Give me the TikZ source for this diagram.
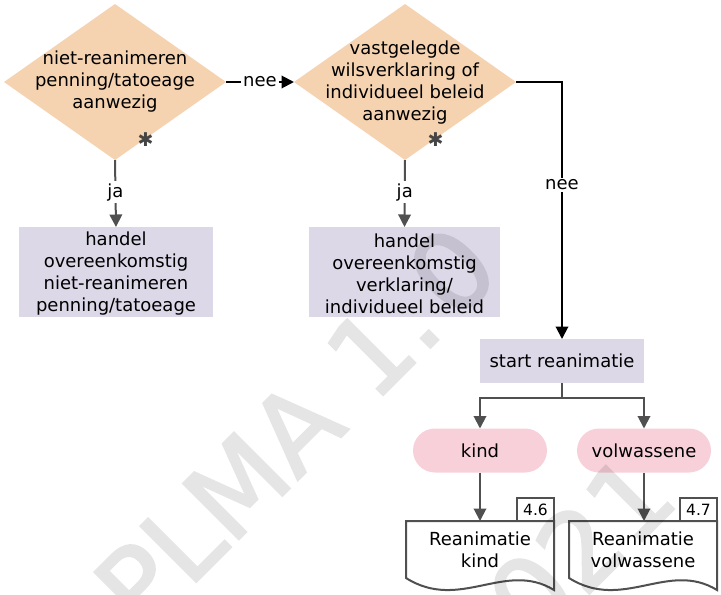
\documentclass[tikz,border=0pt]{standalone}
\usepackage{fontspec}
\setmainfont{DejaVu Sans}
\newfontfamily\wmfont{DejaVu Sans}[FakeBold=2]
\usetikzlibrary{shapes.geometric,arrows.meta,calc}
\definecolor{peach}{RGB}{245,211,176}
\definecolor{lav}{RGB}{220,216,232}
\definecolor{pinkc}{RGB}{248,208,218}
\definecolor{gline}{RGB}{80,80,80}
\definecolor{astc}{RGB}{68,68,68}
\begin{document}
\begin{tikzpicture}[x=1pt,y=-1pt,
  every node/.style={inner sep=0pt, outer sep=0pt},
  txt/.style={font=\fontsize{18}{22}\selectfont, align=center, text=black},
  dia/.style={shape=diamond, fill=peach, minimum width=222pt, minimum height=156pt},
  actbox/.style={txt, fill=lav, minimum height=90pt},
  pill/.style={txt, fill=pinkc, rounded corners=22pt, minimum width=134pt, minimum height=44pt},
  docbox/.style={txt, minimum width=148pt, minimum height=57pt},
  docline/.style={draw=gline, line width=2pt, fill=white},
  tab/.style={draw=gline, line width=2pt, fill=white, minimum width=37pt, minimum height=23pt, font=\fontsize{15.5}{16}\selectfont},
  garrow/.style={draw=gline, line width=2pt, -{Triangle[length=12.5pt,width=12.5pt]}},
  barrow/.style={draw=black, line width=2pt, -{Triangle[length=12.5pt,width=12.5pt]}},
  lbl/.style={fill=white, inner sep=2pt, font=\fontsize{18}{22}\selectfont},
  ast/.style={font=\fontsize{19}{19}\selectfont, text=astc},
  wm/.style={font=\wmfont\fontsize{108}{108}\selectfont, text=black}
]
\useasboundingbox (0,0) rectangle (721,595);
\clip (0,0) rectangle (721,595);

% decisions
\node[dia] (d1) at (115,82) {};
\node[txt] (d1t) at (d1.center) {niet-reanimeren\\penning/tatoeage\\aanwezig};
\node[ast] (a1) at (145.5,140) {✱};
\node[dia] (d2) at (405,82) {};
\node[txt] (d2t) at ($(d2.center)+(0,1)$) {vastgelegde\\wilsverklaring of\\individueel beleid\\aanwezig};
\node[ast] (a2) at (435.5,140) {✱};

% action boxes
\node[actbox, minimum width=194pt] (b1) at (116,272) {};
\node[txt] (b1t) at ($(b1.center)+(0,2)$) {handel\\overeenkomstig\\niet-reanimeren\\penning/tatoeage};
\node[actbox, minimum width=191pt] (b2) at (404.5,272) {};
\node[txt] (b2t) at ($(b2.center)+(0,2)$) {handel\\overeenkomstig\\verklaring/\\individueel beleid};
\node[txt, fill=lav, minimum width=164pt, minimum height=44pt] (start) at (562,361) {start reanimatie};

% pills
\node[pill] (kind) at (480,450.5) {kind};
\node[pill] (volw) at (644,450.5) {volwassene};

% documents
\node[docbox] (doc1) at (480,549.5) {};
\draw[docline] (doc1.south west) -- (doc1.north west) -- (doc1.north east) -- ($(doc1.south east)+(0,12)$)
  .. controls ($(doc1.south west)+(99,-18)$) and ($(doc1.south west)+(54,34)$) .. (doc1.south west) -- cycle;
\node[txt] (doc1t) at (doc1.center) {Reanimatie\\kind};
\node[tab, anchor=south east] (t1) at (doc1.north east) {4.6};

\node[docbox] (doc2) at (643,549.5) {};
\draw[docline] (doc2.south west) -- (doc2.north west) -- (doc2.north east) -- ($(doc2.south east)+(0,12)$)
  .. controls ($(doc2.south west)+(99,-18)$) and ($(doc2.south west)+(54,34)$) .. (doc2.south west) -- cycle;
\node[txt] (doc2t) at (doc2.center) {Reanimatie\\volwassene};
\node[tab, anchor=south east] (t2) at (doc2.north east) {4.7};

% connectors
\draw[barrow] (d1.east) -- node[lbl] (n1) {nee} (d2.west);
\draw[barrow] (d2.east) -| node[lbl, pos=0.7] (n2) {nee} (start.north);
\draw[garrow] (d1.south) -- node[lbl, pos=0.48] (j1) {ja} (b1.north);
\draw[garrow] (d2.south) -- node[lbl, pos=0.48] (j2) {ja} (b2.north);
\draw[garrow] (start.south) -- ++(0,15) -| (kind.north);
\draw[garrow] (start.south) -- ++(0,15) -| (volw.north);
\draw[garrow] (kind.south) -- (kind.south |- doc1.north);
\draw[garrow] (volw.south) -- (volw.south |- doc2.north);

% watermark
\begin{scope}[transparency group, opacity=0.1]
\node[wm, anchor=base west, rotate=45] (wm1) at (142.7,635.3) {PLMA 1.\kern12pt0};
\node[wm, anchor=base east, rotate=45] (wm2) at (681,502) {2021};
\end{scope}
\end{tikzpicture}
\end{document}
